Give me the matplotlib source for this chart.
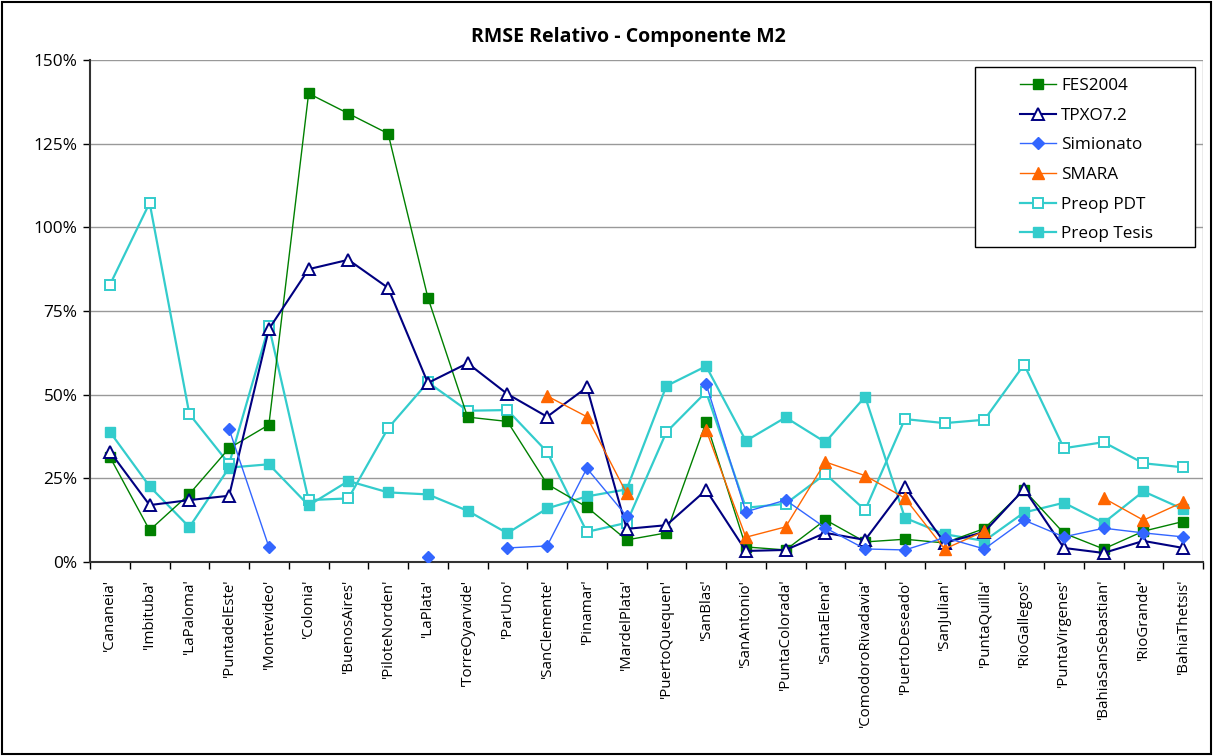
import numpy as np
import matplotlib
matplotlib.use("Agg")
import matplotlib.pyplot as plt
from matplotlib.ticker import FixedLocator, FuncFormatter
from matplotlib.patches import Rectangle

nan = np.nan
stations = ["'Cananeia'", "'Imbituba'", "'LaPaloma'", "'PuntadelEste'", "'Montevideo'",
            "'Colonia'", "'BuenosAires'", "'PiloteNorden'", "'LaPlata'", "'TorreOyarvide'",
            "'ParUno'", "'SanClemente'", "'Pinamar'", "'MardelPlata'", "'PuertoQuequen'",
            "'SanBlas'", "'SanAntonio'", "'PuntaColorada'", "'SantaElena'",
            "'ComodoroRivadavia'", "'PuertoDeseado'", "'SanJulian'", "'PuntaQuilla'",
            "'RioGallegos'", "'PuntaVirgenes'", "'BahiaSanSebastian'", "'RioGrande'",
            "'BahiaThetsis'"]

fes2004 = [31.4, 9.5, 20.3, 34.0, 41.0, 140.0, 134.0, 128.0, 79.0, 43.3,
           42.0, 23.3, 16.4, 6.6, 8.7, 41.8, 4.5, 3.6, 12.6, 6.0,
           6.8, 5.7, 10.0, 21.5, 8.6, 3.9, 9.2, 12.1]
tpxo72 = [33.0, 17.0, 18.5, 19.8, 69.6, 87.5, 90.3, 81.9, 53.5, 59.4,
          50.2, 43.4, 52.2, 9.9, 11.0, 21.5, 3.3, 3.6, 8.7, 6.6,
          22.4, 5.7, 9.0, 21.8, 4.2, 2.7, 6.3, 4.2]
simionato = [nan, nan, nan, 39.7, 4.5, nan, nan, nan, 1.5, nan,
             4.2, 4.8, 28.0, 13.7, nan, 53.2, 15.0, 18.5, 10.2, 3.9,
             3.6, 7.3, 3.9, 12.5, 7.5, 10.1, 8.7, 7.5]
smara = [nan, nan, nan, nan, nan, nan, nan, nan, nan, nan,
         nan, 49.6, 43.4, 20.5, nan, 39.4, 7.4, 10.5, 29.9, 25.8,
         19.1, 3.9, 9.2, nan, nan, 19.1, 12.5, 17.9]
preop_pdt = [82.8, 107.3, 44.2, 29.3, 70.5, 18.5, 19.0, 40.0, 53.7, 45.2,
             45.4, 32.9, 9.0, 11.7, 38.8, 50.8, 16.2, 17.4, 26.3, 15.5,
             42.7, 41.5, 42.5, 59.0, 34.0, 35.8, 29.5, 28.3]
preop_tesis = [38.9, 22.6, 10.4, 28.2, 29.2, 16.9, 24.2, 20.8, 20.2, 15.3,
               8.6, 16.0, 19.6, 21.7, 52.6, 58.5, 36.2, 43.2, 35.8, 49.4,
               13.2, 8.3, 6.3, 14.8, 17.7, 11.7, 21.1, 15.8]

yticks = [0, 25, 50, 75, 100, 125, 150]

plt.rcParams['font.family'] = ['Open Sans', 'DejaVu Sans']

W, H = 1213, 756
fig = plt.figure(figsize=(W / 100, H / 100), dpi=100)
ax = fig.add_axes([90/W, 1-562/H, (1203-90)/W, (562-60)/H])

x = np.arange(len(stations))
ms = 7.5
ax.plot(x, fes2004, color='#008000', lw=1.0, marker='s', ms=ms, mfc='#008000',
        mec='#008000', label='FES2004', zorder=5)
ax.plot(x, tpxo72, color='#000080', lw=1.5, marker='^', ms=ms + 1, mfc='white',
        mec='#000080', mew=1.4, label='TPXO7.2', zorder=6)
ax.plot(x, simionato, color='#3366FF', lw=1.0, marker='D', ms=6, mfc='#3366FF',
        mec='#3366FF', label='Simionato', zorder=7)
ax.plot(x, smara, color='#FF6600', lw=1.0, marker='^', ms=ms + 1, mfc='#FF6600',
        mec='#FF6600', label='SMARA', zorder=6)
ax.plot(x, preop_pdt, color='#33CCCC', lw=1.6, marker='s', ms=ms, mfc='white',
        mec='#33CCCC', mew=1.4, label='Preop PDT', zorder=4)
ax.plot(x, preop_tesis, color='#33CCCC', lw=1.6, marker='s', ms=ms, mfc='#33CCCC',
        mec='#33CCCC', label='Preop Tesis', zorder=4)

ax.set_xlim(-0.5, len(stations) - 0.5)
ax.set_ylim(0, 150)
ax.yaxis.set_major_locator(FixedLocator(yticks))
ax.yaxis.set_major_formatter(FuncFormatter(lambda v, p: f"{int(v)}%"))
ax.grid(axis='y', color='#999999', lw=1.0)
ax.set_axisbelow(True)

ax.set_xticks(x)
ax.set_xticklabels(stations, rotation=90, fontsize=10.8)
ax.set_xticks(np.arange(-0.5, len(stations), 1), minor=True)
ax.tick_params(axis='x', which='major', length=0, pad=12)
ax.tick_params(axis='x', which='minor', length=5, width=1, color='black')
ax.tick_params(axis='y', length=5, width=1, labelsize=12.4, pad=4)

for side in ['top', 'right']:
    ax.spines[side].set_visible(False)
ax.spines['left'].set_linewidth(1.5)
ax.spines['bottom'].set_linewidth(1.5)
ax.spines['left'].set_color('#333333')
ax.spines['bottom'].set_color('#333333')
ax.axvline(len(stations) - 0.5, color='#999999', lw=1.0)

fig.text(628/W, 1-37/H, 'RMSE Relativo - Componente M2', ha='center', va='center',
         fontsize=14, fontweight='bold')

# legend: frame drawn separately to match the wide box of the reference
leg = fig.legend(*ax.get_legend_handles_labels(), loc='upper left',
                 bbox_to_anchor=(1020/W, 1-78/H),
                 fontsize=12.3, frameon=False, borderpad=0, labelspacing=0.8,
                 handlelength=2.1, handletextpad=0.3, borderaxespad=0)
fig.patches.append(Rectangle((975/W, 1-247/H), (1195-975)/W, (247-67)/H,
                             transform=fig.transFigure, fill=True, facecolor='white',
                             edgecolor='black', lw=1.0, zorder=3))
leg.set_zorder(4)

fig.patches.append(Rectangle((0.002, 0.002), 0.996, 0.995, transform=fig.transFigure,
                             fill=False, edgecolor='black', lw=1.5))

fig.savefig('out.png', dpi=100)
